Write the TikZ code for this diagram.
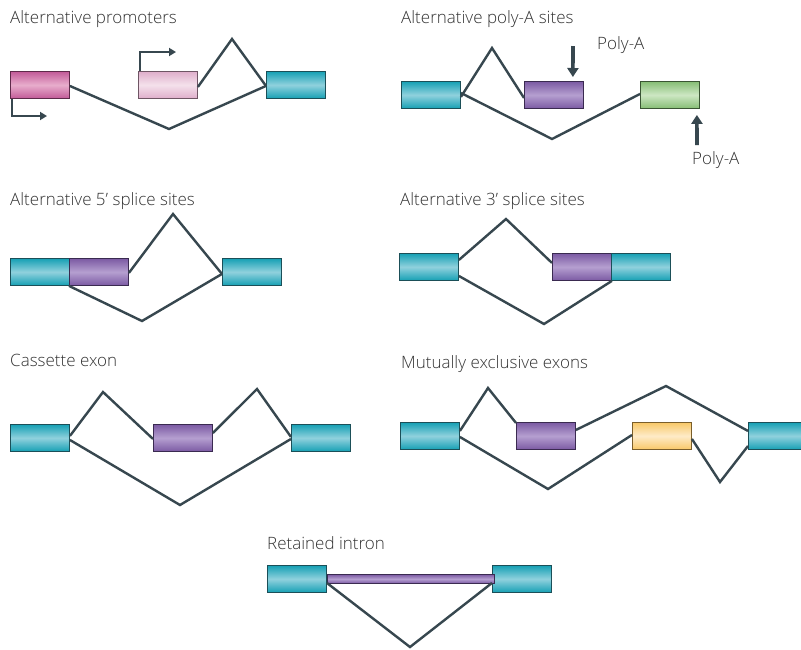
\documentclass[tikz,border=0pt]{standalone}
\usepackage{fontspec}
\setmainfont{Open Sans}[UprightFont=* Light]
\usetikzlibrary{arrows.meta}
\definecolor{linec}{HTML}{37474F}
\definecolor{txtc}{HTML}{333333}
\definecolor{cyD}{HTML}{16A0B4}\definecolor{cyL}{HTML}{90D1DD}\definecolor{cyB}{HTML}{1B4F58}
\definecolor{mgD}{HTML}{C25A98}\definecolor{mgL}{HTML}{E8ADCC}\definecolor{mgB}{HTML}{5E2A4A}
\definecolor{pkD}{HTML}{DFAECB}\definecolor{pkL}{HTML}{F4E1EB}\definecolor{pkB}{HTML}{6E5564}
\definecolor{puD}{HTML}{7B5AA3}\definecolor{puL}{HTML}{B59FD0}\definecolor{puB}{HTML}{3A2A50}
\definecolor{gnD}{HTML}{86BD75}\definecolor{gnL}{HTML}{CDE7C3}\definecolor{gnB}{HTML}{3A5533}
\definecolor{ylD}{HTML}{F8C868}\definecolor{ylL}{HTML}{FEEBC8}\definecolor{ylB}{HTML}{7A5E2A}
\tikzset{
  exon/.style n args={3}{draw=#3, line width=0.9pt, inner sep=0pt, anchor=north west,
    minimum width=59pt, minimum height=27pt, top color=#1, bottom color=#1, middle color=#2},
  cyanex/.style={exon={cyD}{cyL}{cyB}},
  magex/.style={exon={mgD}{mgL}{mgB}},
  pinkex/.style={exon={pkD}{pkL}{pkB}},
  purpex/.style={exon={puD}{puL}{puB}},
  greenex/.style={exon={gnD}{gnL}{gnB}},
  yellex/.style={exon={ylD}{ylL}{ylB}},
  intron/.style={draw=linec, line width=2.4pt, line join=miter},
  promarrow/.style={draw=linec, line width=2.2pt, -{Triangle[length=7pt,width=8pt]}},
  polyarrow/.style={draw=linec, line width=3.6pt, -{Triangle[length=9pt,width=11pt]}},
  title/.style={anchor=base west, inner sep=0pt, text=txtc, font=\fontsize{17}{20}\selectfont},
}
\begin{document}
\begin{tikzpicture}[x=1pt,y=-1pt]
\useasboundingbox[fill=white] (0,0) rectangle (801,649);

% ---------- Alternative promoters ----------
\node[title] (t1) at (10,23) {Alternative promoters};
\node[magex] (a1) at (10,71) {};
\node[pinkex] (a2) at (138,71) {};
\node[cyanex] (a3) at (266,71) {};
\coordinate (ap) at (232,39);
\coordinate (av) at (169,129);
\draw[intron] ([yshift=-2pt]a2.east) -- (ap) -- ([yshift=-1pt]a3.west);
\draw[intron] ([yshift=-1pt]a1.east) -- (av) -- ([yshift=-1pt]a3.west);
\coordinate (ar1) at (47,116);
\coordinate (ar2) at (176,52);
\draw[promarrow] ([xshift=2pt]a1.south west) |- (ar1);
\draw[promarrow] ([xshift=2pt]a2.north west) |- (ar2);

% ---------- Alternative poly-A sites ----------
\node[title] (t2) at (401,23) {Alternative poly-A sites};
\node[cyanex] (b1) at (401,81) {};
\node[purpex] (b2) at (524,81) {};
\node[greenex] (b3) at (640,81) {};
\coordinate (bp) at (492,48);
\coordinate (bv) at (552,139);
\draw[intron] ([yshift=-2pt]b1.east) -- (bp) -- ([yshift=-3pt]b2.west);
\draw[intron] ([yshift=2pt]b1.east) -- (bv) -- ([yshift=1pt]b3.west);
\node[title] (pa1) at (597,49) {Poly-A};
\node[title] (pa2) at (692,164) {Poly-A};
\coordinate (pa1s) at (573,46);
\coordinate (pa2s) at (697,145);
\draw[polyarrow] (pa1s) -- ([xshift=-11pt,yshift=4pt]b2.north east);
\draw[polyarrow] (pa2s) -- ([xshift=-3pt,yshift=-6pt]b3.south east);

% ---------- Alternative 5' splice sites ----------
\node[title] (t3) at (10,205) {Alternative 5’ splice sites};
\node[cyanex] (c1) at (10,258) {};
\node[purpex] (c2) at (69,258) {};
\node[cyanex] (c3) at (222,258) {};
\coordinate (cp) at (173,214);
\coordinate (cv) at (142,321);
\draw[intron] ([yshift=-1pt]c2.east) -- (cp) -- ([yshift=-2pt]c3.west);
\draw[intron] (c2.south west) -- (cv) -- ([yshift=-2pt]c3.west);

% ---------- Alternative 3' splice sites ----------
\node[title] (t4) at (400,205) {Alternative 3’ splice sites};
\node[cyanex] (d1) at (399,253) {};
\node[purpex] (d2) at (552,253) {};
\node[cyanex] (d3) at (611,253) {};
\coordinate (dp) at (506,219);
\coordinate (dv) at (544,324);
\draw[intron] ([yshift=7pt]d1.east) -- (dp) -- ([yshift=4pt]d2.west);
\draw[intron] ([yshift=-9pt]d1.east) -- (dv) -- (d2.south east);

% ---------- Cassette exon ----------
\node[title] (t5) at (10,366) {Cassette exon};
\node[cyanex] (e1) at (10,424) {};
\node[purpex] (e2) at (153,424) {};
\node[cyanex] (e3) at (291,424) {};
\coordinate (ep1) at (103,392);
\coordinate (ep2) at (257,389);
\coordinate (ev) at (180,505);
\draw[intron] ([yshift=2pt]e1.east) -- (ep1) -- ([yshift=-1pt]e2.west);
\draw[intron] ([yshift=5pt]e2.east) -- (ep2) -- ([yshift=1pt]e3.west);
\draw[intron] ([yshift=-2pt]e1.east) -- (ev) -- ([yshift=-1pt]e3.west);

% ---------- Mutually exclusive exons ----------
\node[title] (t6) at (401,368) {Mutually exclusive exons};
\node[cyanex] (f1) at (400,422) {};
\node[purpex] (f2) at (516,422) {};
\node[yellex] (f3) at (632,422) {};
\node[cyanex] (f4) at (748,422) {};
\coordinate (fp1) at (488,388);
\coordinate (fp2) at (666,386);
\coordinate (fv1) at (548,489);
\coordinate (fv2) at (720,482);
\draw[intron] ([yshift=5pt]f1.east) -- (fp1) -- ([yshift=13pt]f2.west);
\draw[intron] ([yshift=6pt]f2.east) -- (fp2) -- ([yshift=5pt]f4.west);
\draw[intron] ([yshift=-1pt]f1.east) -- (fv1) -- ([yshift=1pt]f3.west);
\draw[intron] ([yshift=-3pt]f3.east) -- (fv2) -- ([yshift=-10pt]f4.west);

% ---------- Retained intron ----------
\node[title] (t7) at (267,549) {Retained intron};
\node[cyanex] (g1) at (267,565) {};
\node[cyanex] (g2) at (492,565) {};
\node[draw=puB, line width=0.8pt, inner sep=0pt, anchor=west, minimum width=167pt,
  minimum height=9pt, top color=puD, bottom color=puD, middle color=puL] (gb) at (g1.east) {};
\coordinate (gv) at (410,647);
\draw[intron] ([yshift=-4pt]g1.east) -- (gv) -- ([yshift=-4pt]g2.west);
\end{tikzpicture}
\end{document}
